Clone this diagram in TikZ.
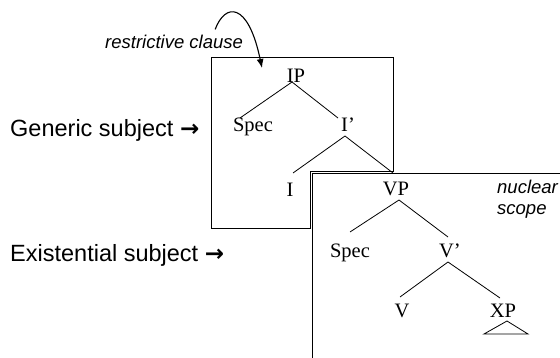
\documentclass[tikz,border=0pt]{standalone}
\usepackage{fontspec}
\setmainfont{Liberation Serif}
\newfontfamily\lsans{Liberation Sans}
\newfontfamily\djv{DejaVu Sans Bold}
\newcommand{\rarr}{{\djv\fontsize{23}{26}\selectfont →}}
\usetikzlibrary{calc,arrows.meta}
\begin{document}
\begin{tikzpicture}[x=1pt,y=-1pt,
  tree/.style={inner sep=0pt,anchor=base,font=\fontsize{20.5}{24}\selectfont},
  side/.style={inner sep=0pt,anchor=base west,font=\lsans\fontsize{23.5}{28}\selectfont},
  note/.style={inner sep=0pt,anchor=base west,font=\lsans\itshape\fontsize{18.5}{22}\selectfont},
  edge/.style={line width=0.8pt},
  frame/.style={line width=0.9pt}]
\useasboundingbox (0,0) rectangle (560,358);
% boxes
\draw[frame] (211,57) -- (393,57) -- (393,171) -- (310,171) -- (310,228) -- (211,228) -- cycle;
\draw[frame] (312,358) -- (312,173) -- (560,173);
% labels
\node[note] (rc) at (105,49) {restrictive clause};
\node[note] (nu) at (497,194) {nuclear};
\node[note] (sc) at (497,215) {scope};
\node[side] (gs) at (10,137) {Generic subject \rarr};
\node[side] (es) at (10,262) {Existential subject \rarr};
% tree
\node[tree] (IP) at (296,83) {IP};
\node[tree] (S1) at (253,132) {Spec};
\node[tree] (I1) at (348,132) {I’};
\node[tree] (I0) at (290,197) {I};
\node[tree] (VP) at (396,196) {VP};
\node[tree] (S2) at (350,258) {Spec};
\node[tree] (V1) at (450,258) {V’};
\node[tree] (V0) at (402,317) {V};
\node[tree] (XP) at (503,317) {XP};
\draw[edge] ($(IP.base)+(-4,-1)$) -- ($(S1.base)+(-13,-14)$);
\draw[edge] ($(IP.base)+(-4,-1)$) -- ($(I1.base)+(-10,-14)$);
\draw[edge] ($(I1.base)+(-3,4)$) -- ($(I0.base)+(3,-24)$);
\draw[edge] ($(I1.base)+(-3,4)$) -- ($(VP.base)+(-3,-23)$);
\draw[edge] ($(VP.base)+(3,4)$) -- ($(S2.base)+(0,-26)$);
\draw[edge] ($(VP.base)+(3,4)$) -- ($(V1.base)+(-2,-21)$);
\draw[edge] ($(V1.base)+(-2,4)$) -- ($(V0.base)+(-2,-20)$);
\draw[edge] ($(V1.base)+(-2,4)$) -- ($(XP.base)+(-3,-19)$);
\draw[edge] ($(XP.base)+(4,4)$) -- ($(XP.base)+(-19,17)$) -- ($(XP.base)+(25,17)$) -- cycle;
% curved arrow
\coordinate (tip) at (262,68);
\draw[line width=1.1pt,-{Latex[length=9pt,width=7pt]}] ($(rc.north east)+(-28,-6)$) .. controls (225,3) and (248,1) .. (tip);
\end{tikzpicture}
\end{document}
